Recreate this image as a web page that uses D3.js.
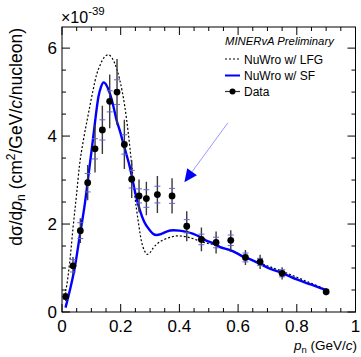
<!DOCTYPE html>
<html>
<head>
<meta charset="utf-8">
<script src="https://cdn.jsdelivr.net/npm/d3@7"></script>
<style>
    body { margin: 0; background: #ffffff; }
    text { font-family: "Liberation Sans", Arial, Helvetica, sans-serif; fill: #000000; }
</style>
</head>
<body>
<div id="graph"></div>
<script>
// Canvas Info
var CanvasInfo = {
    width: 361,
    height: 357,
    id: "#graph"
};

// Plot frame margins
var MarginInfo = {
    left: 62,
    right: 5.5,
    top: 27,
    bottom: 45
};

// Axis ranges and ticks
var xDomain = [0, 1];
var yDomain = [0, 6.48];
var xMajorTicks = [0, 0.2, 0.4, 0.6, 0.8, 1];
var xTickLabels = ["0", "0.2", "0.4", "0.6", "0.8", "1"];
var yMajorTicks = [0, 2, 4, 6];
var yTickLabels = ["0", "2", "4", "6"];

// Data (units of 1e-39 cm^2/GeV/c/nucleon)
var dataX = [0.0125, 0.0375, 0.0625, 0.0875, 0.1125, 0.1375, 0.1625, 0.1875, 0.2125, 0.2375, 0.2625,
             0.2875, 0.325, 0.375, 0.425, 0.475, 0.525, 0.575, 0.625, 0.675, 0.75, 0.9];
var dataY = [0.35, 1.05, 1.85, 2.94, 3.71, 4.14, 4.79, 5.0, 3.81, 3.02, 2.64,
             2.58, 2.67, 2.64, 1.95, 1.65, 1.58, 1.63, 1.24, 1.14, 0.88, 0.46];
var totErr = [0.1, 0.2, 0.28, 0.4, 0.54, 0.55, 0.61, 0.75, 0.56, 0.43, 0.37,
              0.38, 0.42, 0.4, 0.34, 0.27, 0.25, 0.23, 0.17, 0.16, 0.14, 0.08];
var statErr = [0.06, 0.14, 0.18, 0.21, 0.23, 0.23, 0.24, 0.28, 0.22, 0.2, 0.16,
               0.2, 0.19, 0.17, 0.15, 0.12, 0.12, 0.12, 0.1, 0.08, 0.08, 0.04];

// NuWro w/ SF
var sfX = [0.012, 0.027, 0.044, 0.061, 0.078, 0.09, 0.101, 0.112, 0.124, 0.133, 0.142, 0.152, 0.163,
           0.175, 0.186, 0.198, 0.209, 0.22, 0.231, 0.24, 0.25, 0.265, 0.28, 0.299, 0.31, 0.322, 0.34,
           0.356, 0.38, 0.4, 0.424, 0.445, 0.469, 0.49, 0.515, 0.537, 0.571, 0.6, 0.617, 0.64, 0.673,
           0.7, 0.753, 0.8, 0.85, 0.9];
var sfY = [0.1, 0.5, 1.03, 1.75, 2.47, 3.1, 3.68, 4.29, 4.89, 5.12, 5.22, 5.15, 4.97,
           4.68, 4.36, 4.1, 3.83, 3.57, 3.3, 3.02, 2.7, 2.32, 2.05, 1.86, 1.78, 1.75, 1.78,
           1.83, 1.86, 1.85, 1.82, 1.78, 1.71, 1.63, 1.56, 1.48, 1.41, 1.32, 1.26, 1.2, 1.1,
           1.01, 0.88, 0.74, 0.62, 0.5];

// NuWro w/ LFG
var lfgX = [0.005, 0.016, 0.027, 0.038, 0.05, 0.059, 0.073, 0.09, 0.106, 0.118, 0.129, 0.145, 0.158,
            0.17, 0.18, 0.197, 0.214, 0.226, 0.237, 0.248, 0.26, 0.271, 0.282, 0.29, 0.3, 0.311, 0.33,
            0.345, 0.37, 0.39, 0.424, 0.458, 0.49, 0.52, 0.55, 0.6, 0.64, 0.68, 0.72, 0.753, 0.8,
            0.85, 0.9];
var lfgY = [0.3, 0.6, 1.18, 1.94, 2.7, 3.3, 3.91, 4.51, 5.05, 5.4, 5.6, 5.8, 5.85,
            5.78, 5.65, 5.27, 4.67, 4.06, 3.38, 2.65, 2.05, 1.6, 1.38, 1.31, 1.35, 1.46, 1.58,
            1.64, 1.7, 1.73, 1.71, 1.64, 1.57, 1.53, 1.45, 1.32, 1.2, 1.1, 1.0, 0.92, 0.79,
            0.65, 0.51];

// Annotation arrow, tail and tip in data units
var arrowFrom = [0.565, 4.3];
var arrowTo = [0.417, 2.95];

var legendLabels = ["NuWro w/ LFG", "NuWro w/ SF", "Data"];

/**
 * Draw inward tick marks on one side of the frame
 */
function DrawTicks(group, values, scale, isX, pos, length, dir)
{
    group.selectAll(null)
         .data(values)
         .enter()
         .append("line")
         .attr("x1", function(v) { return isX ? scale(v) : pos; })
         .attr("x2", function(v) { return isX ? scale(v) : pos + dir * length; })
         .attr("y1", function(v) { return isX ? pos : scale(v); })
         .attr("y2", function(v) { return isX ? pos + dir * length : scale(v); })
         .attr("stroke", "#000")
         .attr("stroke-width", 1);
}

function SetupPlot()
{
    var svg = d3.select(CanvasInfo.id)
                .append("svg")
                .attr("width", CanvasInfo.width)
                .attr("height", CanvasInfo.height);

    var left = MarginInfo.left;
    var right = CanvasInfo.width - MarginInfo.right;
    var top = MarginInfo.top;
    var bottom = CanvasInfo.height - MarginInfo.bottom;

    var xScale = d3.scaleLinear().domain(xDomain).range([left, right]);
    var yScale = d3.scaleLinear().domain(yDomain).range([bottom, top]);

    // Ticks on all four sides, pointing in
    var ticks = svg.append("g");
    var xMinor = d3.range(0, 1.0001, 0.05).filter(function(v) { return Math.abs(v * 5 - Math.round(v * 5)) > 1e-6; });
    var yMinor = d3.range(0, 6.4, 0.5).filter(function(v) { return v % 2 !== 0; });
    DrawTicks(ticks, xMajorTicks, xScale, true, bottom, 8, -1);
    DrawTicks(ticks, xMinor, xScale, true, bottom, 4, -1);
    DrawTicks(ticks, xMajorTicks, xScale, true, top, 8, 1);
    DrawTicks(ticks, xMinor, xScale, true, top, 4, 1);
    DrawTicks(ticks, yMajorTicks, yScale, false, left, 8, 1);
    DrawTicks(ticks, yMinor, yScale, false, left, 4, 1);
    DrawTicks(ticks, yMajorTicks, yScale, false, right, 8, -1);
    DrawTicks(ticks, yMinor, yScale, false, right, 4, -1);

    // Tick labels
    svg.append("g")
       .selectAll("text")
       .data(xMajorTicks)
       .enter()
       .append("text")
       .attr("x", function(v) { return xScale(v); })
       .attr("y", bottom + 20)
       .attr("text-anchor", "middle")
       .style("font-size", "17px")
       .text(function(v, i) { return xTickLabels[i]; });

    svg.append("g")
       .selectAll("text")
       .data(yMajorTicks)
       .enter()
       .append("text")
       .attr("x", left - 5)
       .attr("y", function(v) { return yScale(v) + 6; })
       .attr("text-anchor", "end")
       .style("font-size", "17px")
       .text(function(v, i) { return yTickLabels[i]; });

    // Exponent
    var expo = svg.append("text")
                  .attr("x", left - 1)
                  .attr("y", top - 4)
                  .style("font-size", "16px");
    expo.append("tspan").text("\u00d710");
    expo.append("tspan").attr("dy", -8).style("font-size", "11.5px").text("-39");

    // Axis titles
    var xTitle = svg.append("text")
                    .attr("x", right + 1.5)
                    .attr("y", CanvasInfo.height - 7)
                    .attr("text-anchor", "end")
                    .style("font-size", "13.5px");
    xTitle.append("tspan").style("font-style", "italic").text("p");
    xTitle.append("tspan").attr("dy", 3).style("font-size", "9.5px").text("n");
    xTitle.append("tspan").attr("dy", -3).text(" (GeV/");
    xTitle.append("tspan").style("font-style", "italic").text("c");
    xTitle.append("tspan").text(")");

    var yTitle = svg.append("text")
                    .attr("transform", "translate(22," + (top + 1) + ") rotate(-90)")
                    .attr("text-anchor", "end")
                    .style("font-size", "17.5px");
    yTitle.append("tspan").text("d\u03c3/d");
    yTitle.append("tspan").style("font-style", "italic").text("p");
    yTitle.append("tspan").attr("dy", 3).style("font-size", "12px").text("n");
    yTitle.append("tspan").attr("dy", -3).text(" (cm");
    yTitle.append("tspan").attr("dy", -7).style("font-size", "12px").text("2");
    yTitle.append("tspan").attr("dy", 7).text("/GeV/");
    yTitle.append("tspan").style("font-style", "italic").text("c");
    yTitle.append("tspan").text("/nucleon)");

    // Clip to frame
    svg.append("clipPath")
       .attr("id", "frame")
       .append("rect")
       .attr("x", left).attr("y", top)
       .attr("width", right - left).attr("height", bottom - top);

    var plot = svg.append("g").attr("clip-path", "url(#frame)");

    var line = d3.line()
                 .curve(d3.curveMonotoneX)
                 .x(function(p) { return xScale(p[0]); })
                 .y(function(p) { return yScale(p[1]); });

    plot.append("path")
        .datum(d3.zip(lfgX, lfgY))
        .attr("d", line)
        .style("fill", "none")
        .style("stroke", "#000")
        .style("stroke-width", 1.2)
        .style("stroke-dasharray", "2,2");

    plot.append("path")
        .datum(d3.zip(sfX, sfY))
        .attr("d", line)
        .style("fill", "none")
        .style("stroke", "#0000ff")
        .style("stroke-width", 2.4);

    // Data points: total error bars, stat marks, markers
    var pts = d3.range(dataX.length);
    plot.selectAll(".tot")
        .data(pts)
        .enter()
        .append("line")
        .attr("x1", function(i) { return xScale(dataX[i]); })
        .attr("x2", function(i) { return xScale(dataX[i]); })
        .attr("y1", function(i) { return yScale(dataY[i] + totErr[i]); })
        .attr("y2", function(i) { return yScale(dataY[i] - totErr[i]); })
        .style("stroke", "#3a3a3a")
        .style("stroke-width", 1.4);

    [1, -1].forEach(function(sign)
    {
        plot.selectAll(null)
            .data(pts)
            .enter()
            .append("line")
            .attr("x1", function(i) { return xScale(dataX[i]) - 3; })
            .attr("x2", function(i) { return xScale(dataX[i]) + 3; })
            .attr("y1", function(i) { return yScale(dataY[i] + sign * statErr[i]); })
            .attr("y2", function(i) { return yScale(dataY[i] + sign * statErr[i]); })
            .style("stroke", "#6060e0")
            .style("stroke-width", 1);
    });

    plot.selectAll("circle")
        .data(pts)
        .enter()
        .append("circle")
        .attr("cx", function(i) { return xScale(dataX[i]); })
        .attr("cy", function(i) { return yScale(dataY[i]); })
        .attr("r", 3.4)
        .style("fill", "#000");

    // Arrow
    var ax0 = xScale(arrowFrom[0]), ay0 = yScale(arrowFrom[1]);
    var ax1 = xScale(arrowTo[0]), ay1 = yScale(arrowTo[1]);
    var len = Math.sqrt((ax1 - ax0) * (ax1 - ax0) + (ay1 - ay0) * (ay1 - ay0));
    var ux = (ax1 - ax0) / len, uy = (ay1 - ay0) / len;
    var headLen = 13, headHalf = 6;
    var bx = ax1 - ux * headLen, by = ay1 - uy * headLen;
    plot.append("line")
        .attr("x1", ax0).attr("y1", ay0)
        .attr("x2", bx).attr("y2", by)
        .style("stroke", "#9a9aff")
        .style("stroke-width", 1);
    plot.append("polygon")
        .attr("points", [[ax1, ay1], [bx - uy * headHalf, by + ux * headHalf], [bx + uy * headHalf, by - ux * headHalf]].join(" "))
        .style("fill", "#0000ff");

    // Frame
    svg.append("rect")
       .attr("x", left).attr("y", top)
       .attr("width", right - left).attr("height", bottom - top)
       .style("fill", "none")
       .style("stroke", "#000")
       .style("stroke-width", 1);

    // Legend
    var lg = svg.append("g").attr("transform", "translate(225,0)");
    lg.append("text")
      .attr("x", 0).attr("y", 45)
      .style("font-size", "11.3px")
      .style("font-style", "italic")
      .text("MINERvA Preliminary");

    var rowY = [59, 75.5, 91.5];
    lg.append("line").attr("x1", 0).attr("x2", 15).attr("y1", rowY[0]).attr("y2", rowY[0])
      .style("stroke", "#000").style("stroke-width", 1.2).style("stroke-dasharray", "2,2");
    lg.append("line").attr("x1", 0).attr("x2", 15).attr("y1", rowY[1]).attr("y2", rowY[1])
      .style("stroke", "#0000ff").style("stroke-width", 2);
    lg.append("line").attr("x1", 0).attr("x2", 15).attr("y1", rowY[2]).attr("y2", rowY[2])
      .style("stroke", "#333").style("stroke-width", 1.2);
    lg.append("circle").attr("cx", 7.5).attr("cy", rowY[2]).attr("r", 3).style("fill", "#000");

    lg.selectAll(".lt")
      .data(legendLabels)
      .enter()
      .append("text")
      .attr("x", 19)
      .attr("y", function(d, i) { return rowY[i] + 4.5; })
      .style("font-size", "12px")
      .text(function(d) { return d; });
}

SetupPlot();
</script>
</body>
</html>
